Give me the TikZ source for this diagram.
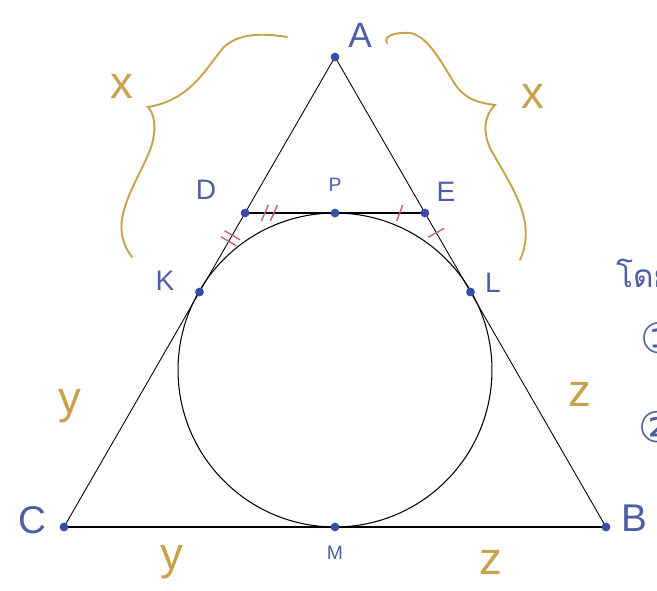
\documentclass[tikz,border=0pt]{standalone}
\usepackage{fontspec}
\setmainfont{Liberation Sans}
\newfontfamily\thaifont[Script=Thai]{Loma}
\newfontfamily\symfont{DejaVu Sans}
\usepackage{tikz}
\usetikzlibrary{calc, backgrounds}

\definecolor{ptblue}{HTML}{3A4BA8}
\definecolor{lblblue}{HTML}{4F5DA6}
\definecolor{gold}{HTML}{C9A24E}
\definecolor{tickpink}{HTML}{C4607E}

\begin{document}
\begin{tikzpicture}[
    x=0.02cm, y=-0.02cm,
    pt/.style={circle, fill=ptblue, inner sep=0pt, minimum size=5pt},
    lbl/.style={text=lblblue, font=\fontsize{16}{18}\selectfont},
    small lbl/.style={text=lblblue, font=\fontsize{11}{13}\selectfont},
    side/.style={text=gold, font=\fontsize{26}{28}\selectfont},
    brace/.style={gold, line width=1.1pt, line cap=round},
    tickmark/.style={tickpink, line width=0.8pt}
]

\useasboundingbox (0,0) rectangle (657,591);
\clip (0,0) rectangle (657,591);

% Points of the triangle and incircle
\coordinate (O) at (335,370);
\node[pt] (A) at (335,57) {};
\node[pt] (B) at (606,527) {};
\node[pt] (C) at (64,527) {};
\node[pt] (M) at (335,527) {};
\node[pt] (P) at (335,213) {};
\node[pt] (D) at (245.1,213) {};
\node[pt] (E) at (424.9,213) {};
\node[pt] (K) at (199.5,292) {};
\node[pt] (L) at (470.5,292) {};

% Sides, tangent segment and circle
\begin{scope}[on background layer]
\draw[line width=0.5pt] (A.center) -- (C.center);
\draw[line width=0.5pt] (A.center) -- (B.center);
\draw[line width=1pt] (C.center) -- (B.center);
\draw[line width=1.5pt] (D.center) -- (E.center);
\draw[line width=0.6pt] (O) circle[radius=3.14cm];
\end{scope}

% Equal tangent marks
\draw[tickmark] ($(D.center)!0.27!(P.center)$) +(-8,8) -- +(-1,-8) +(1,8) -- +(8,-8);
\draw[tickmark] ($(D.center)!0.32!(K.center)$) +(-9.5,-1.5) -- +(6,7.5) +(-6,-7.5) -- +(9.5,1.5);
\draw[tickmark] ($(P.center)!0.72!(E.center)$) +(-3,8) -- +(3,-8);
\draw[tickmark] ($(E.center)!0.25!(L.center)$) +(-8,4.5) -- +(8,-4.5);

% Point labels
\node[lbl, font=\fontsize{20}{22}\selectfont] (lA) at (360,35) {A};
\node[lbl, font=\fontsize{22}{24}\selectfont] (lB) at (634,518) {B};
\node[lbl, font=\fontsize{22}{24}\selectfont] (lC) at (32,520) {C};
\node[lbl] (lD) at (206,190) {D};
\node[lbl] (lE) at (446,192) {E};
\node[lbl] (lK) at (165,281) {K};
\node[lbl] (lL) at (493,283) {L};
\node[small lbl] (lP) at (335,185) {P};
\node[small lbl] (lM) at (335,553) {M};

% Braces over AD and AE
\draw[brace] (287,37) .. controls (262,33) and (238,33) .. (223,48)
  .. controls (205,70) and (190,100) .. (148,107)
  .. controls (158,118) and (155,140) .. (148,155)
  .. controls (130,195) and (108,225) .. (132,257);
\draw[brace] (387,43) .. controls (383,36) and (395,32) .. (410,33)
  .. controls (430,36) and (445,70) .. (457,87)
  .. controls (467,100) and (480,103) .. (495,105)
  .. controls (485,115) and (482,130) .. (490,148)
  .. controls (510,185) and (538,220) .. (520,260);

% Segment lengths
\node[side] (xl) at (122,86) {x};
\node[side] (xr) at (533,96) {x};
\node[side] (yl) at (70,406) {y};
\node[side] (yb) at (172,562) {y};
\node[side] (zr) at (580,394) {z};
\node[side] (zb) at (491,562) {z};

% Notes cut at the right edge
\node[anchor=west, text=lblblue, font=\thaifont\fontsize{18}{20}\selectfont] (note) at (610,273) {โดย};
\node[anchor=west, text=lblblue, font=\symfont\fontsize{24}{26}\selectfont] (n1) at (634,338) {①};
\node[anchor=west, text=lblblue, font=\symfont\fontsize{24}{26}\selectfont] (n2) at (632,427) {②};

\end{tikzpicture}
\end{document}
